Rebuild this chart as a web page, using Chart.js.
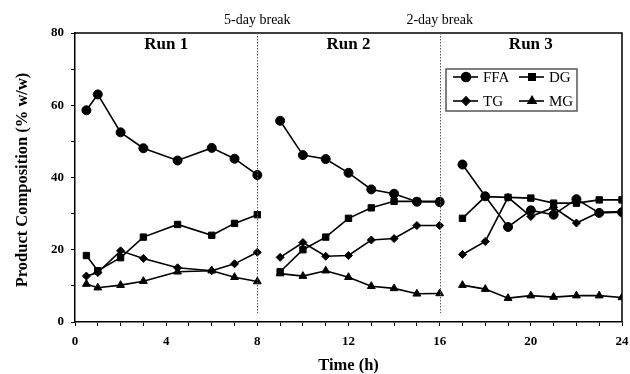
<!DOCTYPE html>
<html>
<head>
<meta charset="utf-8">
<script src="https://cdn.jsdelivr.net/npm/chart.js@4.4.1/dist/chart.umd.min.js"></script>
<style>
  html, body { margin: 0; padding: 0; background: #fff; }
  #wrap { width: 630px; height: 374px; position: relative; }
</style>
</head>
<body>
<div id="wrap"><canvas id="chart"></canvas></div>
<script>
// ---------------- DATA ----------------
const run1Time = [0.5, 1, 2, 3, 4.5, 6, 7, 8];
const run2Time = [9, 10, 11, 12, 13, 14, 15, 16];
const run3Time = [17, 18, 19, 20, 21, 22, 23, 24];

const ffa1 = [58.6, 63.0, 52.5, 48.1, 44.7, 48.2, 45.2, 40.7];
const ffa2 = [55.7, 46.2, 45.1, 41.3, 36.7, 35.5, 33.3, 33.2];
const ffa3 = [43.6, 34.8, 26.3, 30.9, 29.7, 34.0, 30.2, 30.4];

const dg1 = [18.4, 14.2, 17.8, 23.5, 27.0, 24.0, 27.3, 29.7];
const dg2 = [13.9, 20.0, 23.5, 28.7, 31.6, 33.4, 33.4, 33.4];
const dg3 = [28.7, 34.7, 34.5, 34.3, 32.9, 32.9, 33.8, 33.8];

const tg1 = [12.7, 13.7, 19.7, 17.6, 15.0, 14.2, 16.1, 19.3];
const tg2 = [17.9, 22.0, 18.2, 18.4, 22.7, 23.1, 26.7, 26.7];
const tg3 = [18.7, 22.3, 34.5, 29.2, 31.7, 27.4, 30.4, 30.6];

const mg1 = [10.5, 9.5, 10.2, 11.3, 13.9, 14.2, 12.4, 11.2];
const mg2 = [13.4, 12.7, 14.2, 12.4, 9.9, 9.3, 7.8, 7.9];
const mg3 = [10.2, 9.1, 6.6, 7.3, 6.9, 7.3, 7.3, 6.8];

const breakTimes = [8, 16];
const breakLabels = ["5-day break", "2-day break"];
const runLabels = ["Run 1", "Run 2", "Run 3"];
const runCenters = [4, 12, 20];

const xTickLabels = [0, 4, 8, 12, 16, 20, 24];
const yTickLabels = [0, 20, 40, 60, 80];

const xTitle = "Time (h)";
const yTitle = "Product Composition (% w/w)";

const FONT = "'Liberation Serif', 'Times New Roman', serif";

// join three runs into one series, with a null between runs so the line breaks
function joinRuns(a, b, c) {
  const pts = [];
  run1Time.forEach((t, i) => pts.push({ x: t, y: a[i] }));
  pts.push({ x: 8.5, y: null });
  run2Time.forEach((t, i) => pts.push({ x: t, y: b[i] }));
  pts.push({ x: 16.5, y: null });
  run3Time.forEach((t, i) => pts.push({ x: t, y: c[i] }));
  return pts;
}

function series(label, data, style, radius) {
  return {
    label,
    data,
    borderColor: "#000",
    backgroundColor: "#000",
    borderWidth: 1.6,
    pointStyle: style,
    pointRadius: radius,
    pointBorderWidth: 1,
    tension: 0,
    spanGaps: false,
  };
}

const datasets = [
  series("FFA", joinRuns(ffa1, ffa2, ffa3), "circle", 4.5),
  series("DG", joinRuns(dg1, dg2, dg3), "rect", 4.5),
  series("TG", joinRuns(tg1, tg2, tg3), "rectRot", 4),
  series("MG", joinRuns(mg1, mg2, mg3), "triangle", 4.5),
];

// ---------------- EXTRAS: frame, breaks, titles, legend ----------------
const extras = {
  id: "extras",
  afterDatasetsDraw(chart) {
    const { ctx, chartArea: a, scales } = chart;
    const xs = scales.x;
    ctx.save();

    // top and right frame lines
    ctx.strokeStyle = "#000";
    ctx.lineWidth = 1.5;
    ctx.beginPath();
    ctx.moveTo(a.left, a.top);
    ctx.lineTo(a.right, a.top);
    ctx.lineTo(a.right, a.bottom);
    ctx.stroke();

    // dotted break lines
    ctx.strokeStyle = "#555";
    ctx.lineWidth = 1;
    ctx.setLineDash([1.5, 1.5]);
    breakTimes.forEach(t => {
      const px = Math.round(xs.getPixelForValue(t)) + 0.5;
      ctx.beginPath();
      ctx.moveTo(px, a.top);
      ctx.lineTo(px, a.bottom - 9);
      ctx.stroke();
    });
    ctx.setLineDash([]);

    ctx.fillStyle = "#000";
    ctx.textAlign = "center";
    ctx.textBaseline = "middle";
    ctx.font = "14px " + FONT;
    breakTimes.forEach((t, i) => {
      ctx.fillText(breakLabels[i], xs.getPixelForValue(t), 20);
    });

    ctx.font = "bold 17px " + FONT;
    runCenters.forEach((t, i) => {
      ctx.fillText(runLabels[i], xs.getPixelForValue(t), a.top + 12);
    });

    // axis titles
    ctx.font = "bold 16.5px " + FONT;
    ctx.fillText(xTitle, (a.left + a.right) / 2, 366);
    ctx.save();
    ctx.translate(23, 180);
    ctx.rotate(-Math.PI / 2);
    ctx.fillText(yTitle, 0, 0);
    ctx.restore();

    // legend box
    const bx = 446, by = 69, bw = 131, bh = 42;
    ctx.lineWidth = 1.5;
    ctx.strokeRect(bx, by, bw, bh);
    const cols = [453, 519];
    const rows = [77, 101];
    ctx.font = "15px " + FONT;
    ctx.textAlign = "left";
    chart.data.datasets.forEach((ds, k) => {
      const lx = cols[k % 2];
      const ly = rows[Math.floor(k / 2)];
      ctx.strokeStyle = "#000";
      ctx.lineWidth = 1.6;
      ctx.beginPath();
      ctx.moveTo(lx, ly);
      ctx.lineTo(lx + 25, ly);
      ctx.stroke();
      Chart.helpers.drawPoint(ctx, {
        pointStyle: ds.pointStyle,
        radius: ds.pointRadius,
        rotation: 0,
        borderWidth: 1,
      }, lx + 13, ly);
      ctx.fillStyle = "#000";
      ctx.fill();
      ctx.fillText(ds.label, lx + 30, ly + 1);
    });

    ctx.restore();
  },
};

// ---------------- CHART ----------------
Chart.defaults.font.family = FONT;
Chart.defaults.color = "#000";

new Chart(document.getElementById("chart"), {
  type: "line",
  data: { datasets },
  options: {
    responsive: true,
    maintainAspectRatio: false,
    animation: false,
    layout: { padding: { top: 33, right: 8, left: 0, bottom: 0 } },
    plugins: {
      legend: { display: false },
      tooltip: { enabled: false },
    },
    scales: {
      x: {
        type: "linear",
        min: 0,
        max: 24,
        border: { color: "#000", width: 1.5 },
        grid: { drawOnChartArea: false, color: "#000", tickLength: 4, lineWidth: 1 },
        ticks: {
          stepSize: 1,
          autoSkip: false,
          maxRotation: 0,
          padding: 8,
          font: { size: 13, weight: "bold" },
          callback: v => (xTickLabels.includes(v) ? String(v) : ""),
        },
        afterFit: s => {
          s.height = 52;
          s.paddingLeft = 0;
          s.paddingRight = 0;
        },
      },
      y: {
        min: 0,
        max: 80,
        border: { color: "#000", width: 1.5 },
        grid: { drawOnChartArea: false, color: "#000", tickLength: 4, lineWidth: 1 },
        ticks: {
          stepSize: 10,
          autoSkip: false,
          padding: 7,
          font: { size: 13, weight: "bold" },
          callback: v => (yTickLabels.includes(v) ? String(v) : ""),
        },
        afterFit: s => {
          s.width = 75;
          s.paddingTop = 0;
          s.paddingBottom = 0;
        },
      },
    },
  },
  plugins: [extras],
});
</script>
</body>
</html>
